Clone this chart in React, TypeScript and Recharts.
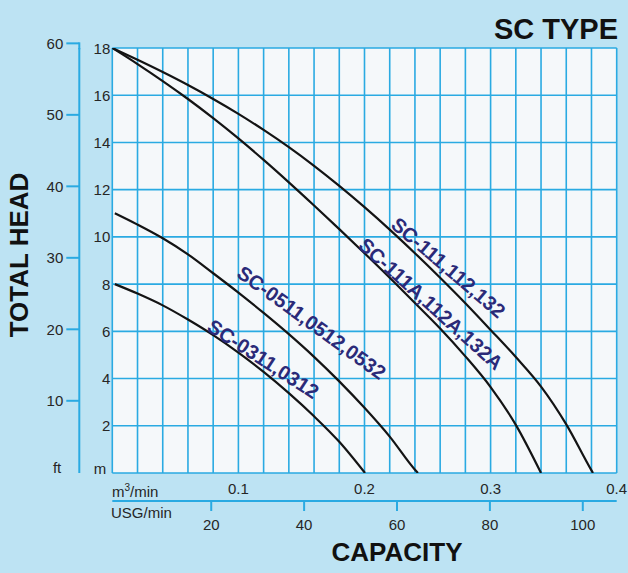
import React from 'react';
import { CartesianGrid, Line, LineChart, ReferenceDot, XAxis, YAxis } from 'recharts';

// axis ticks
const flowTicks = [0.1, 0.2, 0.3, 0.4];
const usgTicks = [20, 40, 60, 80, 100];
const gridFlowTicks = [0, 0.02, 0.04, 0.06, 0.08, 0.1, 0.12, 0.14, 0.16, 0.18, 0.2, 0.22, 0.24, 0.26, 0.28, 0.3, 0.32, 0.34, 0.36, 0.38, 0.4];
const headTicks = [0, 2, 4, 6, 8, 10, 12, 14, 16, 18];
const feetTicks = [0, 10, 20, 30, 40, 50, 60];

// pump curves: capacity (m3/min) vs total head (m)
const flowA = [0, 0.02, 0.04, 0.06, 0.08, 0.1, 0.12, 0.14, 0.16, 0.18, 0.2, 0.22, 0.24, 0.26, 0.28, 0.3, 0.32, 0.34, 0.36, 0.38, 0.3812];
const headA = [18, 17.5, 16.98, 16.43, 15.84, 15.21, 14.53, 13.8, 13.01, 12.16, 11.26, 10.31, 9.31, 8.27, 7.19, 6.06, 4.91, 3.66, 2.06, 0.11, 0];

const flowB = [0, 0.02, 0.04, 0.06, 0.08, 0.1, 0.12, 0.14, 0.16, 0.18, 0.2, 0.22, 0.24, 0.26, 0.28, 0.3, 0.32, 0.34];
const headB = [18, 17.32, 16.6, 15.84, 15.03, 14.17, 13.26, 12.31, 11.33, 10.33, 9.31, 8.27, 7.2, 6.12, 4.94, 3.64, 2.04, 0];

const flowC = [0.002, 0.02, 0.04, 0.06, 0.08, 0.1, 0.12, 0.14, 0.16, 0.18, 0.2, 0.22, 0.24, 0.2424];
const headC = [11.0, 10.52, 9.94, 9.26, 8.46, 7.64, 6.78, 5.88, 4.92, 3.88, 2.76, 1.54, 0.14, 0];

const flowD = [0.002, 0.02, 0.04, 0.06, 0.08, 0.1, 0.12, 0.14, 0.16, 0.18, 0.2004];
const headD = [8.0, 7.6, 7.1, 6.5, 5.84, 5.1, 4.28, 3.38, 2.4, 1.32, 0];

const curveNames = ['SC-111,112,132', 'SC-111A,112A,132A', 'SC-0511,0512,0532', 'SC-0311,0312'];
const labelFlow = [0.2665, 0.2526, 0.1581, 0.1197];
const labelHead = [8.7, 7.16, 6.37, 4.83];
const labelAngle = [40.5, 42, 36, 33];

const toPoints = (flow: number[], head: number[]) => flow.map((q, i) => ({ q, h: head[i] }));
const curves = [toPoints(flowA, headA), toPoints(flowB, headB), toPoints(flowC, headC), toPoints(flowD, headD)];

const FONT = '"Liberation Sans", Arial, sans-serif';
const BLUE = '#2aaae2';
const INK = '#262626';
const NAVY = '#2b2a78';

function HeadTick(props: any) {
  const { x, y, payload } = props;
  const v = payload.value;
  if (v === 0) {
    return (
      <text x={x - 4} y={y - 5} textAnchor="end" dominantBaseline="central" fill={INK} fontSize={15} fontFamily={FONT}>
        m
      </text>
    );
  }
  return (
    <text x={x} y={y} textAnchor="end" dominantBaseline="central" fill={INK} fontSize={15} fontFamily={FONT}>
      {v}
    </text>
  );
}

function FeetTick(props: any) {
  const { x, y, payload } = props;
  const v = payload.value;
  if (v === 0) {
    return (
      <text x={x - 2} y={y - 5} textAnchor="end" dominantBaseline="central" fill={INK} fontSize={15} fontFamily={FONT}>
        ft
      </text>
    );
  }
  return (
    <g>
      <line x1={x + 3} x2={x + 16} y1={y} y2={y} stroke={BLUE} strokeWidth={2} />
      {v === 60 && <line x1={x + 16} x2={x + 16} y1={y - 1} y2={y + 6} stroke={BLUE} strokeWidth={2} />}
      <text x={x} y={y} textAnchor="end" dominantBaseline="central" fill={INK} fontSize={15} fontFamily={FONT}>
        {v}
      </text>
    </g>
  );
}

const curveLabel = (i: number) => (props: any) => (
  <text
    x={props.cx}
    y={props.cy}
    textAnchor="middle"
    dominantBaseline="central"
    transform={`rotate(${labelAngle[i]}, ${props.cx}, ${props.cy})`}
    fill={NAVY}
    fontSize={20}
    fontWeight="bold"
    fontFamily={FONT}
  >
    {curveNames[i]}
  </text>
);

export default function App() {
  return (
    <div style={{ position: 'absolute', left: 0, top: 0, width: 628, height: 573, background: '#bde3f3' }}>
      <LineChart width={628} height={573} margin={{ top: 48, right: 11.3, bottom: 20, left: 19.3 }}>
        <XAxis
          xAxisId="m3"
          type="number"
          dataKey="q"
          domain={[0, 0.4]}
          ticks={flowTicks}
          interval={0}
          allowDataOverflow
          height={28}
          axisLine={false}
          tickLine={false}
          tickSize={0}
          tickMargin={10}
          tick={{ fill: INK, fontSize: 15, fontFamily: FONT }}
        />
        <XAxis
          xAxisId="usg"
          type="number"
          dataKey="u"
          domain={[-1.3, 107.3]}
          ticks={usgTicks}
          interval={0}
          allowDataOverflow
          height={52}
          axisLine={{ stroke: BLUE, strokeWidth: 2 }}
          tickLine={{ stroke: BLUE, strokeWidth: 2 }}
          tickSize={10}
          tickMargin={8}
          tick={{ fill: INK, fontSize: 15, fontFamily: FONT }}
        />
        <XAxis xAxisId="grid" type="number" dataKey="q" domain={[0, 0.4]} ticks={gridFlowTicks} interval={0} height={0} hide allowDataOverflow />
        <YAxis
          yAxisId="a-m"
          type="number"
          domain={[0, 18]}
          ticks={headTicks}
          interval={0}
          allowDataOverflow
          width={33}
          axisLine={false}
          tickLine={false}
          tickSize={0}
          tickMargin={2}
          tick={<HeadTick />}
        />
        <YAxis
          yAxisId="b-ft"
          type="number"
          domain={[-0.1, 59.35]}
          ticks={feetTicks}
          interval={0}
          allowDataOverflow
          width={60}
          axisLine={{ stroke: BLUE, strokeWidth: 2 }}
          tickLine={false}
          tickSize={13}
          tickMargin={3}
          tick={<FeetTick />}
        />
        <CartesianGrid xAxisId="grid" yAxisId="a-m" stroke={BLUE} strokeWidth={1.6} fill="#f5f8fa" fillOpacity={1} />
        {curves.map((pts, i) => (
          <Line
            key={curveNames[i]}
            data={pts}
            dataKey="h"
            xAxisId="m3"
            yAxisId="a-m"
            type="monotone"
            stroke="#141414"
            strokeWidth={2.2}
            dot={false}
            activeDot={false}
            isAnimationActive={false}
          />
        ))}
        {curveNames.map((name, i) => (
          <ReferenceDot key={name} xAxisId="m3" yAxisId="a-m" x={labelFlow[i]} y={labelHead[i]} r={0} shape={curveLabel(i)} />
        ))}
        <text x={618} y={39} textAnchor="end" fontSize={29} fontWeight="bold" fill="#111" fontFamily={FONT}>
          SC TYPE
        </text>
        <text x={28} y={255} textAnchor="middle" transform="rotate(-90, 28, 255)" fontSize={26} fontWeight="bold" fill="#111" fontFamily={FONT}>
          TOTAL HEAD
        </text>
        <text x={397} y={561} textAnchor="middle" fontSize={26} fontWeight="bold" fill="#111" fontFamily={FONT}>
          CAPACITY
        </text>
        <text x={112} y={497} fontSize={15} fill={INK} fontFamily={FONT}>
          m<tspan dy={-6} fontSize={10}>3</tspan>
          <tspan dy={6}>/min</tspan>
        </text>
        <text x={111} y={518} fontSize={15} fill={INK} fontFamily={FONT}>
          USG/min
        </text>
      </LineChart>
    </div>
  );
}
